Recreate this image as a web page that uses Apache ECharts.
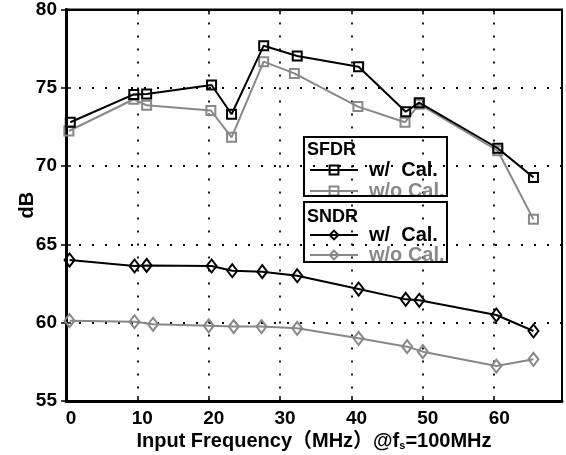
<!DOCTYPE html>
<html>
<head>
<meta charset="utf-8">
<script src="https://cdn.jsdelivr.net/npm/echarts@6/dist/echarts.min.js"></script>
<style>
html,body{margin:0;padding:0;background:#fff;}
#chart{width:566px;height:455px;}
</style>
</head>
<body>
<div id="chart"></div>
<script>
// ---- data ----
var sfdrWX  = [0.6, 9.5, 11.3, 20.4, 23.2, 27.7, 32.4, 41.0, 47.6, 49.5, 60.5, 65.5];
var sfdrW   = [72.8, 74.58, 74.6, 75.18, 73.31, 77.69, 77.03, 76.35, 73.47, 74.05, 71.14, 69.28];
var sfdrWoX = [0.4, 9.5, 11.3, 20.3, 23.2, 27.7, 32.0, 40.9, 47.5, 49.5, 60.5, 65.5];
var sfdrWo  = [72.24, 74.27, 73.88, 73.55, 71.84, 76.67, 75.92, 73.8, 72.8, 73.95, 70.98, 66.6];
var sndrWX  = [0.5, 9.6, 11.3, 20.4, 23.3, 27.5, 32.4, 41.0, 47.6, 49.5, 60.3, 65.5];
var sndrW   = [64.0, 63.62, 63.66, 63.62, 63.32, 63.26, 63.0, 62.15, 61.49, 61.43, 60.49, 59.47];
var sndrWoX = [0.5, 9.6, 12.2, 20.0, 23.5, 27.4, 32.4, 41.0, 47.8, 50.0, 60.3, 65.5];
var sndrWo  = [60.13, 60.06, 59.9, 59.8, 59.75, 59.75, 59.64, 59.0, 58.47, 58.15, 57.23, 57.66];

var seriesNames = ['SFDR w/ Cal.', 'SFDR w/o Cal.', 'SNDR w/ Cal.', 'SNDR w/o Cal.'];
var legendLabels = { 'SFDR w/ Cal.': 'w/  Cal.', 'SFDR w/o Cal.': 'w/o Cal.', 'SNDR w/ Cal.': 'w/  Cal.', 'SNDR w/o Cal.': 'w/o Cal.' };
var xTitle = 'Input Frequency（MHz）@f';
var yTitle = 'dB';

var FONT = "'Liberation Sans', Arial, 'Noto Sans CJK SC', sans-serif";
var BLACK = '#000000', GRAY = '#888888';

function zip(xs, ys) { return xs.map(function (x, i) { return [x, ys[i]]; }); }

function mkSeries(name, xs, ys, color, symbol, size) {
  return {
    name: name, type: 'line', data: zip(xs, ys),
    symbol: symbol, symbolSize: size, showSymbol: true,
    lineStyle: { color: color, width: 2 },
    itemStyle: { color: 'rgba(0,0,0,0)', borderColor: color, borderWidth: 2 },
    emphasis: { disabled: true }, animation: false, z: color === BLACK ? 4 : 3
  };
}

var chart = echarts.init(document.getElementById('chart'), null, { renderer: 'canvas' });
var gridLine = { show: true, lineStyle: { color: '#000', width: 1.8, type: [2, 11] } };
var option = {
  backgroundColor: '#fff',
  textStyle: { fontFamily: FONT },
  grid: { left: 66, right: 4, top: 9.5, bottom: 54, show: true, borderColor: '#000', borderWidth: 2, containLabel: false, outerBoundsMode: 'none' },
  xAxis: [{
    type: 'value', min: 0, max: 69.5, interval: 10, position: 'bottom',
    axisLine: { show: true, onZero: false, lineStyle: { color: '#000', width: 3 } },
    axisTick: { show: true, inside: true, length: 5, lineStyle: { color: '#000', width: 1.5 } },
    axisLabel: { color: '#000', fontSize: 19, fontWeight: 'bold', fontFamily: FONT, margin: 8, showMaxLabel: false, padding: [0, 0, 0, 10] },
    splitLine: gridLine,
    name: '{a|' + xTitle + '}{s|s}{a|=100MHz}', nameLocation: 'middle', nameGap: 30, nameMoveOverlap: false,
    nameTextStyle: { rich: {
      a: { fontSize: 20, fontWeight: 'bold', color: '#000', fontFamily: FONT },
      s: { fontSize: 11, fontWeight: 'bold', color: '#000', fontFamily: FONT, verticalAlign: 'bottom', padding: [8, 0, 0, 0] }
    } }
  }, {
    type: 'value', min: 0, max: 69.5, interval: 10, position: 'top',
    axisLine: { show: true, lineStyle: { color: '#000', width: 2 } },
    axisTick: { show: true, inside: true, length: 5, lineStyle: { color: '#000', width: 1.5 } },
    axisLabel: { show: false }, splitLine: { show: false }
  }],
  yAxis: [{
    type: 'value', min: 55, max: 80, interval: 5, position: 'left',
    axisLine: { show: true, onZero: false, lineStyle: { color: '#000', width: 3 } },
    axisTick: { show: true, inside: true, length: 5, lineStyle: { color: '#000', width: 1.5 } },
    axisLabel: { color: '#000', fontSize: 19, fontWeight: 'bold', fontFamily: FONT, margin: 9, padding: [3, 0, 0, 0] },
    splitLine: gridLine,
    name: yTitle, nameLocation: 'middle', nameGap: 29, nameRotate: 90, nameMoveOverlap: false,
    nameTextStyle: { fontSize: 20, fontWeight: 'bold', color: '#000', fontFamily: FONT }
  }, {
    type: 'value', min: 55, max: 80, interval: 5, position: 'right',
    axisLine: { show: true, lineStyle: { color: '#000', width: 2 } },
    axisTick: { show: true, inside: true, length: 5, lineStyle: { color: '#000', width: 1.5 } },
    axisLabel: { show: false }, splitLine: { show: false }
  }],
  legend: [{
    data: [{ name: seriesNames[0] }, { name: seriesNames[1], textStyle: { color: GRAY } }],
    orient: 'vertical', left: 309, top: 160, padding: 0, itemGap: 1,
    itemWidth: 48, itemHeight: 11, selectedMode: false,
    formatter: function (n) { return legendLabels[n]; },
    textStyle: { fontSize: 20, fontWeight: 'bold', color: '#000', fontFamily: FONT, lineHeight: 16, padding: [0, 0, 0, 6] }
  }, {
    data: [{ name: seriesNames[2] }, { name: seriesNames[3], textStyle: { color: GRAY } }],
    orient: 'vertical', left: 309, top: 225, padding: 0, itemGap: 0,
    itemWidth: 48, itemHeight: 11, selectedMode: false,
    formatter: function (n) { return legendLabels[n]; },
    textStyle: { fontSize: 20, fontWeight: 'bold', color: '#000', fontFamily: FONT, lineHeight: 16, padding: [0, 0, 0, 6] }
  }],
  graphic: [
    { type: 'rect', shape: { x: 304, y: 137, width: 143, height: 59 }, style: { fill: 'none', stroke: '#000', lineWidth: 2 }, z: 10 },
    { type: 'rect', shape: { x: 304, y: 202, width: 143, height: 60 }, style: { fill: 'none', stroke: '#000', lineWidth: 2 }, z: 10 },
    { type: 'text', x: 307, y: 150, style: { text: 'SFDR', fontSize: 18, fontWeight: 'bold', fontFamily: FONT, fill: '#000', verticalAlign: 'middle' }, z: 10 },
    { type: 'text', x: 307, y: 217, style: { text: 'SNDR', fontSize: 18, fontWeight: 'bold', fontFamily: FONT, fill: '#000', verticalAlign: 'middle' }, z: 10 }
  ],
  series: [
    mkSeries(seriesNames[1], sfdrWoX, sfdrWo, GRAY, 'rect', 9),
    mkSeries(seriesNames[0], sfdrWX, sfdrW, BLACK, 'rect', 9),
    mkSeries(seriesNames[3], sndrWoX, sndrWo, GRAY, 'diamond', [10, 13]),
    mkSeries(seriesNames[2], sndrWX, sndrW, BLACK, 'diamond', [10, 13])
  ]
};
chart.setOption(option);
</script>
</body>
</html>
